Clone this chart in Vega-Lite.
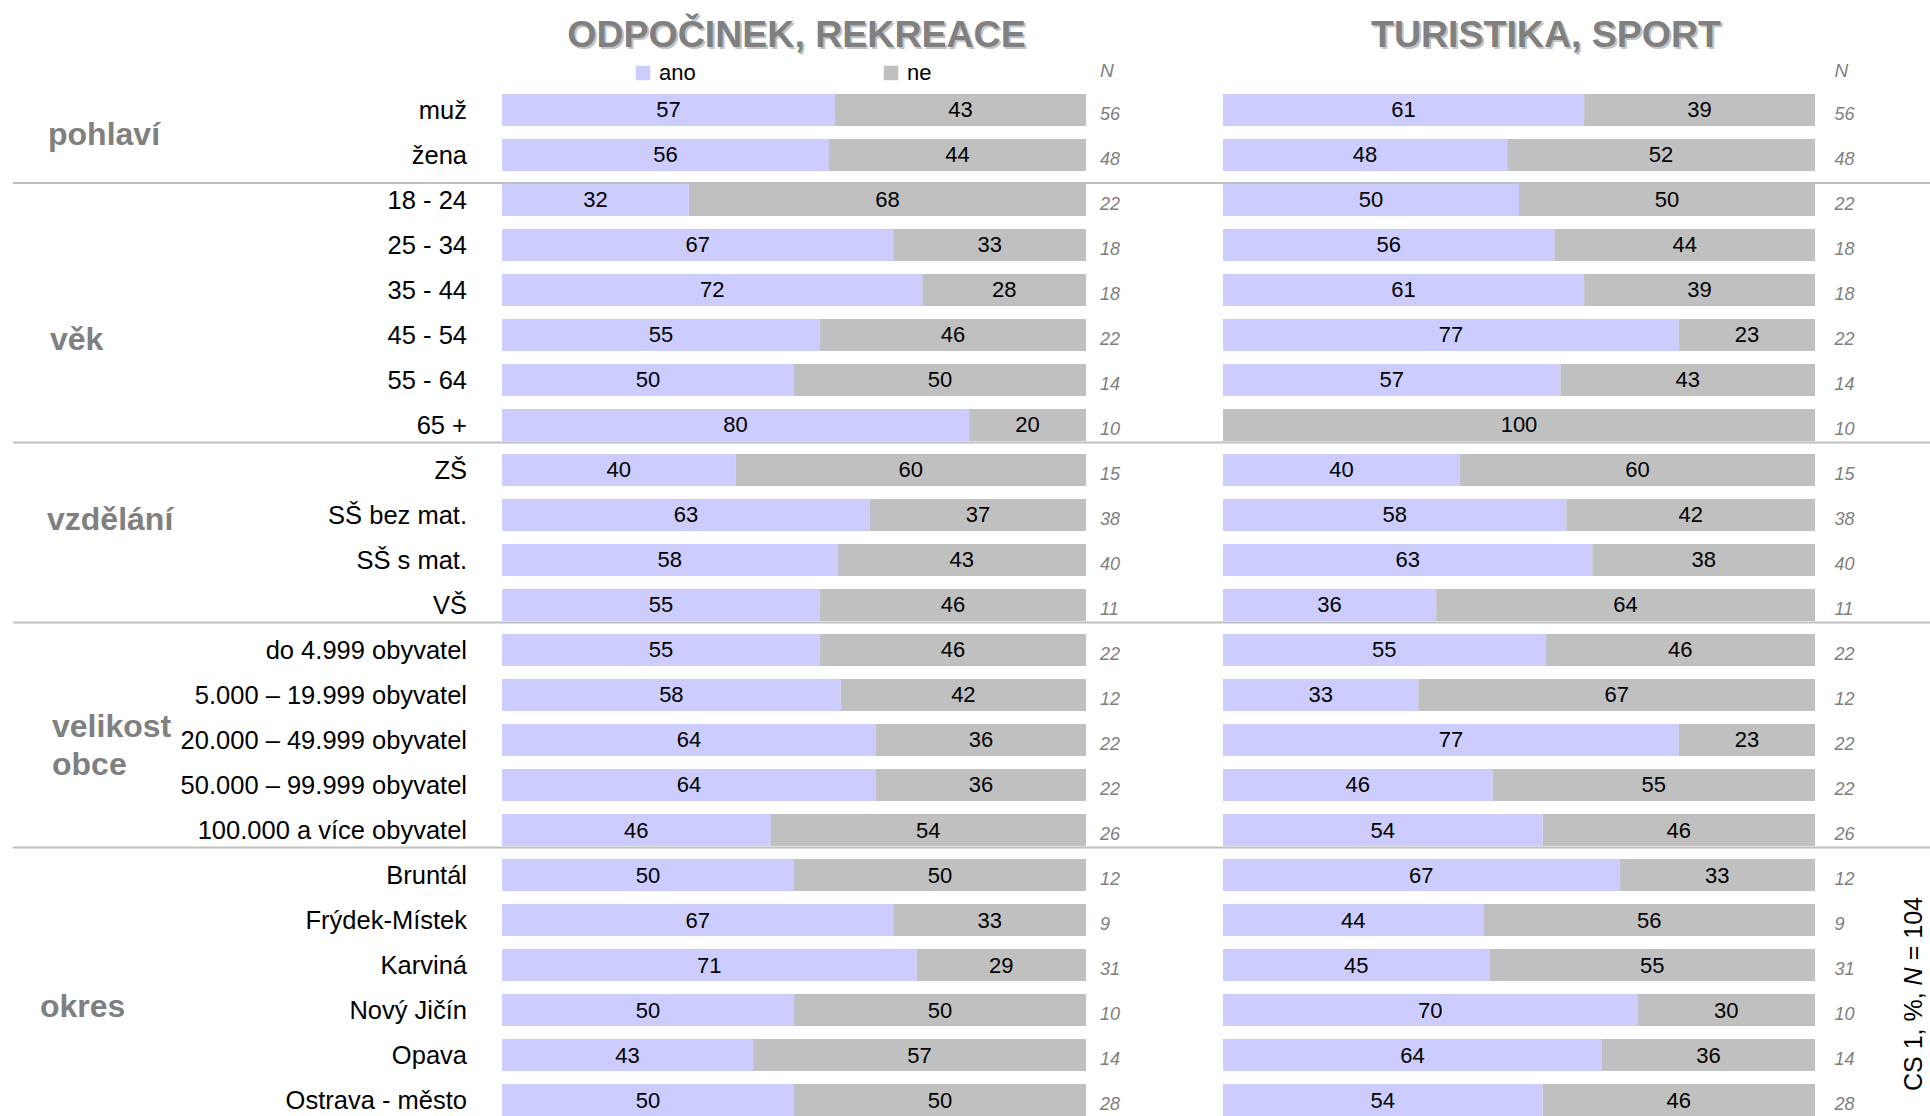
{
  "$schema": "https://vega.github.io/schema/vega-lite/v6.json",
  "background": "white",
  "padding": {"left": 12, "top": 0, "right": 0, "bottom": 0},
  "spacing": 0,
  "bounds": "flush",
  "config": {"view": {"stroke": null}, "font": "Liberation Sans", "text": {"font": "Liberation Sans"}},
  "resolve": {"scale": {"x": "independent", "y": "independent", "color": "independent"}, "legend": {"color": "independent"}},
  "datasets": {
    "rows": [
      {"p": "A", "item": "muž", "answer": "ano", "value": 57, "n": 56},
      {"p": "A", "item": "muž", "answer": "ne", "value": 43, "n": 56},
      {"p": "A", "item": "žena", "answer": "ano", "value": 56, "n": 48},
      {"p": "A", "item": "žena", "answer": "ne", "value": 44, "n": 48},
      {"p": "A", "item": "18 - 24", "answer": "ano", "value": 32, "n": 22},
      {"p": "A", "item": "18 - 24", "answer": "ne", "value": 68, "n": 22},
      {"p": "A", "item": "25 - 34", "answer": "ano", "value": 67, "n": 18},
      {"p": "A", "item": "25 - 34", "answer": "ne", "value": 33, "n": 18},
      {"p": "A", "item": "35 - 44", "answer": "ano", "value": 72, "n": 18},
      {"p": "A", "item": "35 - 44", "answer": "ne", "value": 28, "n": 18},
      {"p": "A", "item": "45 - 54", "answer": "ano", "value": 55, "n": 22},
      {"p": "A", "item": "45 - 54", "answer": "ne", "value": 46, "n": 22},
      {"p": "A", "item": "55 - 64", "answer": "ano", "value": 50, "n": 14},
      {"p": "A", "item": "55 - 64", "answer": "ne", "value": 50, "n": 14},
      {"p": "A", "item": "65 +", "answer": "ano", "value": 80, "n": 10},
      {"p": "A", "item": "65 +", "answer": "ne", "value": 20, "n": 10},
      {"p": "A", "item": "ZŠ", "answer": "ano", "value": 40, "n": 15},
      {"p": "A", "item": "ZŠ", "answer": "ne", "value": 60, "n": 15},
      {"p": "A", "item": "SŠ bez mat.", "answer": "ano", "value": 63, "n": 38},
      {"p": "A", "item": "SŠ bez mat.", "answer": "ne", "value": 37, "n": 38},
      {"p": "A", "item": "SŠ s mat.", "answer": "ano", "value": 58, "n": 40},
      {"p": "A", "item": "SŠ s mat.", "answer": "ne", "value": 43, "n": 40},
      {"p": "A", "item": "VŠ", "answer": "ano", "value": 55, "n": 11},
      {"p": "A", "item": "VŠ", "answer": "ne", "value": 46, "n": 11},
      {"p": "A", "item": "do 4.999 obyvatel", "answer": "ano", "value": 55, "n": 22},
      {"p": "A", "item": "do 4.999 obyvatel", "answer": "ne", "value": 46, "n": 22},
      {"p": "A", "item": "5.000 – 19.999 obyvatel", "answer": "ano", "value": 58, "n": 12},
      {"p": "A", "item": "5.000 – 19.999 obyvatel", "answer": "ne", "value": 42, "n": 12},
      {"p": "A", "item": "20.000 – 49.999 obyvatel", "answer": "ano", "value": 64, "n": 22},
      {"p": "A", "item": "20.000 – 49.999 obyvatel", "answer": "ne", "value": 36, "n": 22},
      {"p": "A", "item": "50.000 – 99.999 obyvatel", "answer": "ano", "value": 64, "n": 22},
      {"p": "A", "item": "50.000 – 99.999 obyvatel", "answer": "ne", "value": 36, "n": 22},
      {"p": "A", "item": "100.000 a více obyvatel", "answer": "ano", "value": 46, "n": 26},
      {"p": "A", "item": "100.000 a více obyvatel", "answer": "ne", "value": 54, "n": 26},
      {"p": "A", "item": "Bruntál", "answer": "ano", "value": 50, "n": 12},
      {"p": "A", "item": "Bruntál", "answer": "ne", "value": 50, "n": 12},
      {"p": "A", "item": "Frýdek-Místek", "answer": "ano", "value": 67, "n": 9},
      {"p": "A", "item": "Frýdek-Místek", "answer": "ne", "value": 33, "n": 9},
      {"p": "A", "item": "Karviná", "answer": "ano", "value": 71, "n": 31},
      {"p": "A", "item": "Karviná", "answer": "ne", "value": 29, "n": 31},
      {"p": "A", "item": "Nový Jičín", "answer": "ano", "value": 50, "n": 10},
      {"p": "A", "item": "Nový Jičín", "answer": "ne", "value": 50, "n": 10},
      {"p": "A", "item": "Opava", "answer": "ano", "value": 43, "n": 14},
      {"p": "A", "item": "Opava", "answer": "ne", "value": 57, "n": 14},
      {"p": "A", "item": "Ostrava - město", "answer": "ano", "value": 50, "n": 28},
      {"p": "A", "item": "Ostrava - město", "answer": "ne", "value": 50, "n": 28},
      {"p": "B", "item": "muž", "answer": "ano", "value": 61, "n": 56},
      {"p": "B", "item": "muž", "answer": "ne", "value": 39, "n": 56},
      {"p": "B", "item": "žena", "answer": "ano", "value": 48, "n": 48},
      {"p": "B", "item": "žena", "answer": "ne", "value": 52, "n": 48},
      {"p": "B", "item": "18 - 24", "answer": "ano", "value": 50, "n": 22},
      {"p": "B", "item": "18 - 24", "answer": "ne", "value": 50, "n": 22},
      {"p": "B", "item": "25 - 34", "answer": "ano", "value": 56, "n": 18},
      {"p": "B", "item": "25 - 34", "answer": "ne", "value": 44, "n": 18},
      {"p": "B", "item": "35 - 44", "answer": "ano", "value": 61, "n": 18},
      {"p": "B", "item": "35 - 44", "answer": "ne", "value": 39, "n": 18},
      {"p": "B", "item": "45 - 54", "answer": "ano", "value": 77, "n": 22},
      {"p": "B", "item": "45 - 54", "answer": "ne", "value": 23, "n": 22},
      {"p": "B", "item": "55 - 64", "answer": "ano", "value": 57, "n": 14},
      {"p": "B", "item": "55 - 64", "answer": "ne", "value": 43, "n": 14},
      {"p": "B", "item": "65 +", "answer": "ano", "value": 0, "n": 10},
      {"p": "B", "item": "65 +", "answer": "ne", "value": 100, "n": 10},
      {"p": "B", "item": "ZŠ", "answer": "ano", "value": 40, "n": 15},
      {"p": "B", "item": "ZŠ", "answer": "ne", "value": 60, "n": 15},
      {"p": "B", "item": "SŠ bez mat.", "answer": "ano", "value": 58, "n": 38},
      {"p": "B", "item": "SŠ bez mat.", "answer": "ne", "value": 42, "n": 38},
      {"p": "B", "item": "SŠ s mat.", "answer": "ano", "value": 63, "n": 40},
      {"p": "B", "item": "SŠ s mat.", "answer": "ne", "value": 38, "n": 40},
      {"p": "B", "item": "VŠ", "answer": "ano", "value": 36, "n": 11},
      {"p": "B", "item": "VŠ", "answer": "ne", "value": 64, "n": 11},
      {"p": "B", "item": "do 4.999 obyvatel", "answer": "ano", "value": 55, "n": 22},
      {"p": "B", "item": "do 4.999 obyvatel", "answer": "ne", "value": 46, "n": 22},
      {"p": "B", "item": "5.000 – 19.999 obyvatel", "answer": "ano", "value": 33, "n": 12},
      {"p": "B", "item": "5.000 – 19.999 obyvatel", "answer": "ne", "value": 67, "n": 12},
      {"p": "B", "item": "20.000 – 49.999 obyvatel", "answer": "ano", "value": 77, "n": 22},
      {"p": "B", "item": "20.000 – 49.999 obyvatel", "answer": "ne", "value": 23, "n": 22},
      {"p": "B", "item": "50.000 – 99.999 obyvatel", "answer": "ano", "value": 46, "n": 22},
      {"p": "B", "item": "50.000 – 99.999 obyvatel", "answer": "ne", "value": 55, "n": 22},
      {"p": "B", "item": "100.000 a více obyvatel", "answer": "ano", "value": 54, "n": 26},
      {"p": "B", "item": "100.000 a více obyvatel", "answer": "ne", "value": 46, "n": 26},
      {"p": "B", "item": "Bruntál", "answer": "ano", "value": 67, "n": 12},
      {"p": "B", "item": "Bruntál", "answer": "ne", "value": 33, "n": 12},
      {"p": "B", "item": "Frýdek-Místek", "answer": "ano", "value": 44, "n": 9},
      {"p": "B", "item": "Frýdek-Místek", "answer": "ne", "value": 56, "n": 9},
      {"p": "B", "item": "Karviná", "answer": "ano", "value": 45, "n": 31},
      {"p": "B", "item": "Karviná", "answer": "ne", "value": 55, "n": 31},
      {"p": "B", "item": "Nový Jičín", "answer": "ano", "value": 70, "n": 10},
      {"p": "B", "item": "Nový Jičín", "answer": "ne", "value": 30, "n": 10},
      {"p": "B", "item": "Opava", "answer": "ano", "value": 64, "n": 14},
      {"p": "B", "item": "Opava", "answer": "ne", "value": 36, "n": 14},
      {"p": "B", "item": "Ostrava - město", "answer": "ano", "value": 54, "n": 28},
      {"p": "B", "item": "Ostrava - město", "answer": "ne", "value": 46, "n": 28}
    ],
    "items": [
      {"item": "muž"}, {"item": "žena"}, {"item": "18 - 24"}, {"item": "25 - 34"}, {"item": "35 - 44"}, {"item": "45 - 54"}, {"item": "55 - 64"}, {"item": "65 +"},
      {"item": "ZŠ"}, {"item": "SŠ bez mat."}, {"item": "SŠ s mat."}, {"item": "VŠ"},
      {"item": "do 4.999 obyvatel"}, {"item": "5.000 – 19.999 obyvatel"}, {"item": "20.000 – 49.999 obyvatel"}, {"item": "50.000 – 99.999 obyvatel"}, {"item": "100.000 a více obyvatel"},
      {"item": "Bruntál"}, {"item": "Frýdek-Místek"}, {"item": "Karviná"}, {"item": "Nový Jičín"}, {"item": "Opava"}, {"item": "Ostrava - město"}
    ],
    "groups": [
      {"group": "pohlaví", "anchor": "žena"},
      {"group": "věk", "anchor": "45 - 54"},
      {"group": "vzdělání", "anchor": "SŠ bez mat."},
      {"group": "velikost\nobce", "anchor": "20.000 – 49.999 obyvatel"},
      {"group": "okres", "anchor": "Nový Jičín"}
    ],
    "sepTop": [{"item": "18 - 24"}],
    "sepBottom": [{"item": "65 +"}, {"item": "VŠ"}, {"item": "100.000 a více obyvatel"}]
  },
  "hconcat": [
    {
      "width": 489,
      "height": 1116,
      "layer": [
        {
          "data": {"name": "sepTop"},
          "mark": {"type": "rule", "color": "#c0c0c0", "strokeWidth": 2, "yOffset": -1},
          "encoding": {
            "y": {"field": "item", "type": "nominal", "bandPosition": 0, "axis": null,
              "scale": {"domain": ["__t","__l","muž","žena","18 - 24","25 - 34","35 - 44","45 - 54","55 - 64","65 +","ZŠ","SŠ bez mat.","SŠ s mat.","VŠ","do 4.999 obyvatel","5.000 – 19.999 obyvatel","20.000 – 49.999 obyvatel","50.000 – 99.999 obyvatel","100.000 a více obyvatel","Bruntál","Frýdek-Místek","Karviná","Nový Jičín","Opava","Ostrava - město"], "paddingInner": 0.289, "paddingOuter": 0.0444, "align": 1}}
          }
        },
        {
          "data": {"name": "sepBottom"},
          "mark": {"type": "rule", "color": "#c0c0c0", "strokeWidth": 2, "yOffset": 1.5},
          "encoding": {
            "y": {"field": "item", "type": "nominal", "bandPosition": 1, "axis": null}
          }
        },
        {
          "data": {"name": "items"},
          "mark": {"type": "text", "align": "right", "baseline": "alphabetic", "dx": -35, "dy": 9, "fontSize": 25.5, "color": "#000000"},
          "encoding": {
            "x": {"datum": 1, "type": "quantitative", "scale": {"domain": [0, 1]}, "axis": null},
            "y": {"field": "item", "type": "nominal", "axis": null},
            "text": {"field": "item", "type": "nominal"}
          }
        },
        {
          "data": {"name": "groups"},
          "transform": [{"filter": {"field": "group", "equal": "pohlaví"}}],
          "mark": {"type": "text", "align": "left", "baseline": "alphabetic", "dx": 35, "dy": 6, "fontSize": 32, "fontWeight": "bold", "color": "#808080"},
          "encoding": {
            "x": {"datum": 0, "type": "quantitative"},
            "y": {"field": "anchor", "type": "nominal", "bandPosition": 0},
            "text": {"field": "group", "type": "nominal"}
          }
        },
        {
          "data": {"name": "groups"},
          "transform": [{"filter": {"field": "group", "equal": "věk"}}],
          "mark": {"type": "text", "align": "left", "baseline": "middle", "dx": 37, "dy": 5, "fontSize": 32, "fontWeight": "bold", "color": "#808080"},
          "encoding": {
            "x": {"datum": 0, "type": "quantitative"},
            "y": {"field": "anchor", "type": "nominal"},
            "text": {"field": "group", "type": "nominal"}
          }
        },
        {
          "data": {"name": "groups"},
          "transform": [{"filter": {"field": "group", "equal": "vzdělání"}}],
          "mark": {"type": "text", "align": "left", "baseline": "middle", "dx": 34, "dy": 5, "fontSize": 32, "fontWeight": "bold", "color": "#808080"},
          "encoding": {
            "x": {"datum": 0, "type": "quantitative"},
            "y": {"field": "anchor", "type": "nominal"},
            "text": {"field": "group", "type": "nominal"}
          }
        },
        {
          "data": {"name": "groups"},
          "transform": [{"filter": {"field": "group", "equal": "velikost\nobce"}}],
          "mark": {"type": "text", "align": "left", "baseline": "middle", "lineBreak": "\n", "lineHeight": 38, "dx": 39, "dy": -13, "fontSize": 32, "fontWeight": "bold", "color": "#808080"},
          "encoding": {
            "x": {"datum": 0, "type": "quantitative"},
            "y": {"field": "anchor", "type": "nominal"},
            "text": {"field": "group", "type": "nominal"}
          }
        },
        {
          "data": {"name": "groups"},
          "transform": [{"filter": {"field": "group", "equal": "okres"}}],
          "mark": {"type": "text", "align": "left", "baseline": "alphabetic", "dx": 27, "dy": 23, "fontSize": 32, "fontWeight": "bold", "color": "#808080"},
          "encoding": {
            "x": {"datum": 0, "type": "quantitative"},
            "y": {"field": "anchor", "type": "nominal", "bandPosition": 0},
            "text": {"field": "group", "type": "nominal"}
          }
        }
      ]
    },
    {
      "width": 721,
      "height": 1116,
      "resolve": {"scale": {"color": "independent"}, "legend": {"color": "independent"}},
      "layer": [
        {
          "data": {"name": "sepTop"},
          "mark": {"type": "rule", "color": "#c0c0c0", "strokeWidth": 2, "yOffset": -1},
          "encoding": {
            "y": {"field": "item", "type": "nominal", "bandPosition": 0, "axis": null,
              "scale": {"domain": ["__t","__l","muž","žena","18 - 24","25 - 34","35 - 44","45 - 54","55 - 64","65 +","ZŠ","SŠ bez mat.","SŠ s mat.","VŠ","do 4.999 obyvatel","5.000 – 19.999 obyvatel","20.000 – 49.999 obyvatel","50.000 – 99.999 obyvatel","100.000 a více obyvatel","Bruntál","Frýdek-Místek","Karviná","Nový Jičín","Opava","Ostrava - město"], "paddingInner": 0.289, "paddingOuter": 0.0444, "align": 1}}
          }
        },
        {
          "data": {"name": "rows"},
          "transform": [{"filter": "datum.p == 'A'"}],
          "mark": {"type": "bar"},
          "encoding": {
            "x": {"field": "value", "type": "quantitative", "stack": "normalize", "axis": null, "scale": {"domain": [0, 1.23459], "nice": false, "zero": true}},
            "y": {"field": "item", "type": "nominal", "axis": null},
            "color": {"field": "answer", "type": "nominal",
              "scale": {"domain": ["ano", "ne"], "range": ["#ccccff", "#c0c0c0"]},
              "legend": {"orient": "none", "legendX": 130, "legendY": 62, "direction": "horizontal", "title": null, "symbolType": "square", "symbolSize": 210, "symbolStrokeWidth": 0, "labelFontSize": 22, "labelFont": "Liberation Sans", "labelColor": "#000000", "labelOffset": 5, "columnPadding": 184, "padding": 0}}
          }
        },
        {
          "data": {"name": "sepBottom"},
          "mark": {"type": "rule", "color": "#c0c0c0", "strokeWidth": 2, "yOffset": 1.5},
          "encoding": {
            "y": {"field": "item", "type": "nominal", "bandPosition": 1, "axis": null}
          }
        },
        {
          "data": {"name": "rows"},
          "transform": [{"filter": "datum.p == 'A' && datum.value > 0"}],
          "mark": {"type": "text", "align": "center", "baseline": "alphabetic", "dy": 7.5, "fontSize": 22},
          "encoding": {
            "x": {"field": "value", "type": "quantitative", "stack": "normalize", "bandPosition": 0.5},
            "y": {"field": "item", "type": "nominal"},
            "color": {"field": "answer", "type": "nominal", "scale": {"domain": ["ano", "ne"], "range": ["#000000", "#000000"]}, "legend": null},
            "text": {"field": "value", "type": "quantitative"}
          }
        },
        {
          "data": {"name": "rows"},
          "transform": [{"filter": "datum.p == 'A' && datum.answer == 'ano'"}],
          "mark": {"type": "text", "align": "left", "baseline": "alphabetic", "dx": 14, "dy": 10, "fontSize": 18, "fontStyle": "italic", "color": "#808080"},
          "encoding": {
            "x": {"datum": 1, "type": "quantitative"},
            "y": {"field": "item", "type": "nominal"},
            "text": {"field": "n", "type": "quantitative"}
          }
        },
        {
          "data": {"values": [{"t": "N"}]},
          "mark": {"type": "text", "align": "left", "baseline": "alphabetic", "dx": 14, "dy": 12, "fontSize": 19, "fontStyle": "italic", "color": "#808080"},
          "encoding": {
            "x": {"datum": 1, "type": "quantitative"},
            "y": {"datum": "__l", "type": "nominal"},
            "text": {"field": "t", "type": "nominal"}
          }
        },
        {
          "data": {"values": [{"t": "ODPOČINEK, REKREACE"}]},
          "mark": {"type": "text", "align": "center", "baseline": "alphabetic", "dx": 4.5, "dy": 29, "fontSize": 37.5, "fontWeight": "bold", "color": "#c4c4c4"},
          "encoding": {
            "x": {"datum": 0.5, "type": "quantitative"},
            "y": {"datum": "__t", "type": "nominal"},
            "text": {"field": "t", "type": "nominal"}
          }
        },
        {
          "data": {"values": [{"t": "ODPOČINEK, REKREACE"}]},
          "mark": {"type": "text", "align": "center", "baseline": "alphabetic", "dx": 2.5, "dy": 27, "fontSize": 37.5, "fontWeight": "bold", "color": "#808080"},
          "encoding": {
            "x": {"datum": 0.5, "type": "quantitative"},
            "y": {"datum": "__t", "type": "nominal"},
            "text": {"field": "t", "type": "nominal"}
          }
        }
      ]
    },
    {
      "width": 708,
      "height": 1116,
      "resolve": {"scale": {"color": "independent"}, "legend": {"color": "independent"}},
      "layer": [
        {
          "data": {"name": "sepTop"},
          "mark": {"type": "rule", "color": "#c0c0c0", "strokeWidth": 2, "yOffset": -1},
          "encoding": {
            "y": {"field": "item", "type": "nominal", "bandPosition": 0, "axis": null,
              "scale": {"domain": ["__t","__l","muž","žena","18 - 24","25 - 34","35 - 44","45 - 54","55 - 64","65 +","ZŠ","SŠ bez mat.","SŠ s mat.","VŠ","do 4.999 obyvatel","5.000 – 19.999 obyvatel","20.000 – 49.999 obyvatel","50.000 – 99.999 obyvatel","100.000 a více obyvatel","Bruntál","Frýdek-Místek","Karviná","Nový Jičín","Opava","Ostrava - město"], "paddingInner": 0.289, "paddingOuter": 0.0444, "align": 1}}
          }
        },
        {
          "data": {"name": "rows"},
          "transform": [{"filter": "datum.p == 'B'"}],
          "mark": {"type": "bar"},
          "encoding": {
            "x": {"field": "value", "type": "quantitative", "stack": "normalize", "axis": null, "scale": {"domain": [0, 1.19595], "nice": false, "zero": true}},
            "y": {"field": "item", "type": "nominal", "axis": null},
            "color": {"field": "answer", "type": "nominal",
              "scale": {"domain": ["ano", "ne"], "range": ["#ccccff", "#c0c0c0"]},
              "legend": null}
          }
        },
        {
          "data": {"name": "sepBottom"},
          "mark": {"type": "rule", "color": "#c0c0c0", "strokeWidth": 2, "yOffset": 1.5},
          "encoding": {
            "y": {"field": "item", "type": "nominal", "bandPosition": 1, "axis": null}
          }
        },
        {
          "data": {"name": "rows"},
          "transform": [{"filter": "datum.p == 'B' && datum.value > 0"}],
          "mark": {"type": "text", "align": "center", "baseline": "alphabetic", "dy": 7.5, "fontSize": 22},
          "encoding": {
            "x": {"field": "value", "type": "quantitative", "stack": "normalize", "bandPosition": 0.5},
            "y": {"field": "item", "type": "nominal"},
            "color": {"field": "answer", "type": "nominal", "scale": {"domain": ["ano", "ne"], "range": ["#000000", "#000000"]}, "legend": null},
            "text": {"field": "value", "type": "quantitative"}
          }
        },
        {
          "data": {"name": "rows"},
          "transform": [{"filter": "datum.p == 'B' && datum.answer == 'ano'"}],
          "mark": {"type": "text", "align": "left", "baseline": "alphabetic", "dx": 19.5, "dy": 10, "fontSize": 18, "fontStyle": "italic", "color": "#808080"},
          "encoding": {
            "x": {"datum": 1, "type": "quantitative"},
            "y": {"field": "item", "type": "nominal"},
            "text": {"field": "n", "type": "quantitative"}
          }
        },
        {
          "data": {"values": [{"t": "N"}]},
          "mark": {"type": "text", "align": "left", "baseline": "alphabetic", "dx": 19.5, "dy": 12, "fontSize": 19, "fontStyle": "italic", "color": "#808080"},
          "encoding": {
            "x": {"datum": 1, "type": "quantitative"},
            "y": {"datum": "__l", "type": "nominal"},
            "text": {"field": "t", "type": "nominal"}
          }
        },
        {
          "data": {"values": [{"t": "TURISTIKA, SPORT"}]},
          "mark": {"type": "text", "align": "center", "baseline": "alphabetic", "dx": 29, "dy": 29, "fontSize": 37.5, "fontWeight": "bold", "color": "#c4c4c4"},
          "encoding": {
            "x": {"datum": 0.5, "type": "quantitative"},
            "y": {"datum": "__t", "type": "nominal"},
            "text": {"field": "t", "type": "nominal"}
          }
        },
        {
          "data": {"values": [{"t": "TURISTIKA, SPORT"}]},
          "mark": {"type": "text", "align": "center", "baseline": "alphabetic", "dx": 27, "dy": 27, "fontSize": 37.5, "fontWeight": "bold", "color": "#808080"},
          "encoding": {
            "x": {"datum": 0.5, "type": "quantitative"},
            "y": {"datum": "__t", "type": "nominal"},
            "text": {"field": "t", "type": "nominal"}
          }
        },
        {
          "data": {"values": [{"t": "CS 1, %,"}]},
          "mark": {"type": "text", "align": "left", "baseline": "middle", "angle": 270, "dx": -97, "dy": 99, "fontSize": 25, "color": "#000000"},
          "encoding": {
            "x": {"datum": 1, "type": "quantitative"},
            "y": {"datum": "Nový Jičín", "type": "nominal", "bandPosition": 0},
            "text": {"field": "t", "type": "nominal"}
          }
        },
        {
          "data": {"values": [{"t": "N"}]},
          "mark": {"type": "text", "align": "left", "baseline": "middle", "angle": 270, "dx": 8.6, "dy": 99, "fontSize": 25, "fontStyle": "italic", "color": "#000000"},
          "encoding": {
            "x": {"datum": 1, "type": "quantitative"},
            "y": {"datum": "Nový Jičín", "type": "nominal", "bandPosition": 0},
            "text": {"field": "t", "type": "nominal"}
          }
        },
        {
          "data": {"values": [{"t": "= 104"}]},
          "mark": {"type": "text", "align": "left", "baseline": "middle", "angle": 270, "dx": 33.7, "dy": 99, "fontSize": 25, "color": "#000000"},
          "encoding": {
            "x": {"datum": 1, "type": "quantitative"},
            "y": {"datum": "Nový Jičín", "type": "nominal", "bandPosition": 0},
            "text": {"field": "t", "type": "nominal"}
          }
        }
      ]
    }
  ]
}
